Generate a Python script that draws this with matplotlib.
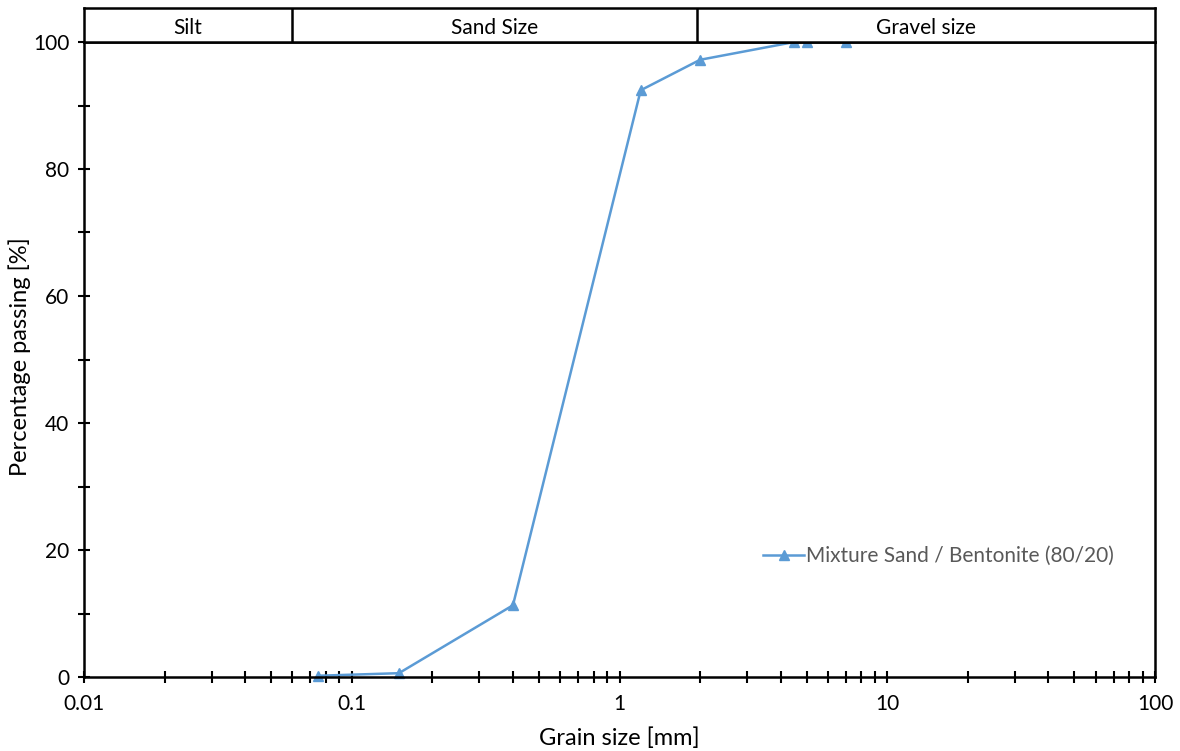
import numpy as np
import matplotlib
matplotlib.use("Agg")
import matplotlib.pyplot as plt
from matplotlib.ticker import LogLocator, MultipleLocator, FixedLocator, NullFormatter

# sieve data
grain_mm = [0.075, 0.15, 0.4, 1.2, 2.0, 4.5, 5.0, 7.0]
passing = [0.2, 0.6, 11.3, 92.4, 97.2, 100.0, 100.0, 100.0]
series_name = "Mixture Sand / Bentonite (80/20)"

# soil classes for the header band
class_names = ["Silt", "Sand Size", "Gravel size"]
class_bounds = [0.01, 0.06, 1.95, 100.0]

x_ticks = [0.01, 0.1, 1, 10, 100]
x_labels = ["0.01", "0.1", "1", "10", "100"]

plt.rcParams['font.family'] = ['Lato', 'DejaVu Sans']
blue = '#5B9BD5'

fig = plt.figure(figsize=(11.8, 7.51), dpi=100)
left, right = 84 / 1180, 1155 / 1180
bottom, top = 1 - 677 / 751, 1 - 42 / 751
head_top = 1 - 8 / 751

ax = fig.add_axes([left, bottom, right - left, top - bottom])
ax.plot(grain_mm, passing, color=blue, lw=1.8, marker='^', ms=7,
        label=series_name, clip_on=False)
ax.set_xscale('log')
ax.set_xlim(0.01, 100)
ax.set_ylim(0, 100)

ax.xaxis.set_major_locator(FixedLocator(x_ticks))
ax.set_xticklabels(x_labels)
ax.xaxis.set_minor_locator(LogLocator(base=10, subs=np.arange(2, 10)))
ax.xaxis.set_minor_formatter(NullFormatter())
ax.yaxis.set_major_locator(MultipleLocator(20))
ax.yaxis.set_minor_locator(MultipleLocator(10))

for s in ax.spines.values():
    s.set_linewidth(1.8)
ax.tick_params(which='both', direction='inout', length=9, width=1.5,
               labelsize=15, colors='black')
ax.tick_params(axis='x', which='major', pad=8)
ax.tick_params(axis='y', which='major', pad=6)

ax.set_xlabel("Grain size [mm]", fontsize=17)
ax.xaxis.label.set_va('center')
ax.xaxis.set_label_coords(0.5, -(738 - 677) / 635)
ax.set_ylabel("Percentage passing [%]", fontsize=17)
ax.yaxis.label.set_va('center')
ax.yaxis.set_label_coords(-(84 - 20) / 1071, 0.505)

leg = ax.legend(loc='center right', bbox_to_anchor=(0.962, 0.19), frameon=False,
                fontsize=15, handlelength=2.0, handletextpad=0.1,
                borderaxespad=0, borderpad=0)
for t in leg.get_texts():
    t.set_color('#595959')

# header band with soil classes
hx = fig.add_axes([left, top, right - left, head_top - top])
hx.set_xscale('log')
hx.set_xlim(0.01, 100)
hx.set_ylim(0, 1)
hx.set_xticks([])
hx.set_yticks([])
hx.minorticks_off()
for s in hx.spines.values():
    s.set_linewidth(1.8)
for b in class_bounds[1:-1]:
    hx.axvline(b, color='black', lw=1.8)
for name, lo, hi in zip(class_names, class_bounds[:-1], class_bounds[1:]):
    hx.text(np.sqrt(lo * hi), 0.42, name, ha='center', va='center', fontsize=15)

fig.savefig("out.png", dpi=100)
